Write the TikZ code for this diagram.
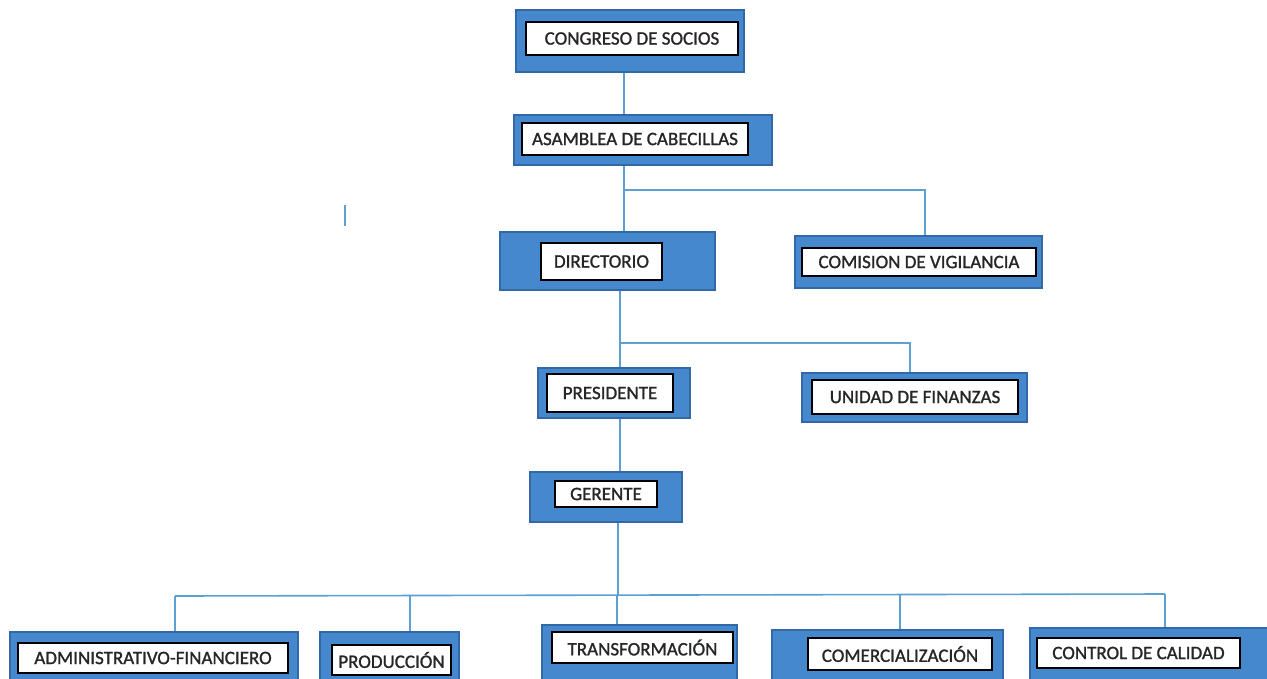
\documentclass[tikz,border=0pt]{standalone}
\usepackage{fontspec}
\setmainfont{Carlito}[FakeBold=1.2]
\usetikzlibrary{fit}
\definecolor{unitblue}{RGB}{70,136,206}
\definecolor{unitedge}{RGB}{50,104,168}
\definecolor{linkblue}{RGB}{92,160,210}
\tikzset{
  outerbox/.style={draw=unitedge, line width=1.2pt, fill=unitblue, inner sep=0pt},
  innerbox/.style={draw=black, line width=1.4pt, fill=white, inner sep=0pt},
  lbl/.style={font=\fontsize{19}{21}\selectfont, text=black!85, inner sep=0pt},
  link/.style={draw=linkblue, line width=1.6pt},
}
% #1 name, #2/#3 outer corners, #4/#5 inner corners, #6 label
\newcommand\orgunit[6]{%
  \node[outerbox, fit={(#2)(#3)}] (#1) {};
  \node[innerbox, fit={(#4)(#5)}] (#1-in) {};
  \node[lbl] (#1-t) at (#1-in.center) {#6};
}
\begin{document}
\begin{tikzpicture}[x=1pt,y=-1pt]
\useasboundingbox[fill=white] (0,0) rectangle (1267,678);

% units
\orgunit{cong}{516,10}{744,72}{526,22}{738,55}{CONGRESO DE SOCIOS}
\orgunit{asam}{514,115}{772,165}{522,123}{748,155}{ASAMBLEA DE CABECILLAS}
\orgunit{dir}{500,232}{715,290}{541,243}{662,280}{DIRECTORIO}
\orgunit{com}{795,236}{1042,288}{802,248}{1036,276}{COMISION DE VIGILANCIA}
\orgunit{pre}{538,368}{690,418}{547,374}{673,412}{PRESIDENTE}
\orgunit{uni}{802,373}{1027,422}{812,380}{1018,414}{UNIDAD DE FINANZAS}
\orgunit{ger}{530,472}{682,522}{555,481}{657,507}{GERENTE}
\orgunit{adm}{10,632}{298,690}{18,643}{288,673}{ADMINISTRATIVO-FINANCIERO}
\orgunit{pro}{320,632}{459,690}{332,645}{451,675}{PRODUCCIÓN}
\orgunit{tra}{542,625}{737,690}{552,632}{733,663}{TRANSFORMACIÓN}
\orgunit{cme}{772,630}{1003,690}{808,638}{992,670}{COMERCIALIZACIÓN}
\orgunit{ctl}{1030,628}{1275,690}{1037,638}{1240,668}{CONTROL DE CALIDAD}

% junction points of the lines
\coordinate (j1) at (624,190);
\coordinate (j1r) at (925,190);
\coordinate (j2) at (620,343);
\coordinate (j2r) at (910,343);
\coordinate (bus) at (618,595);
\coordinate (dA) at (175,596);
\coordinate (dP) at (410,596);
\coordinate (dT) at (617,595);
\coordinate (dC) at (900,594);
\coordinate (dQ) at (1165,594);

% connectors
\draw[link] (cong.south -| j1) -- (asam.north -| j1);
\draw[link] (asam.south -| j1) -- (dir.north -| j1);
\draw[link] (j1) -- (j1r) -- (com.north -| j1r);
\draw[link] (dir.south -| j2) -- (pre.north -| j2);
\draw[link] (j2) -- (j2r) -- (uni.north -| j2r);
\draw[link] (pre.south -| j2) -- (ger.north -| j2);
\draw[link] (ger.south -| bus) -- (bus);
\draw[link] (dA) -- (dQ);
\draw[link] (dA) -- (adm.north -| dA);
\draw[link] (dP) -- (pro.north -| dP);
\draw[link] (dT) -- (tra.north -| dT);
\draw[link] (dC) -- (cme.north -| dC);
\draw[link] (dQ) -- (ctl.north -| dQ);

% short stray stroke on the left
\draw[link, line width=2pt] (345,205) -- (345,226);
\end{tikzpicture}
\end{document}
